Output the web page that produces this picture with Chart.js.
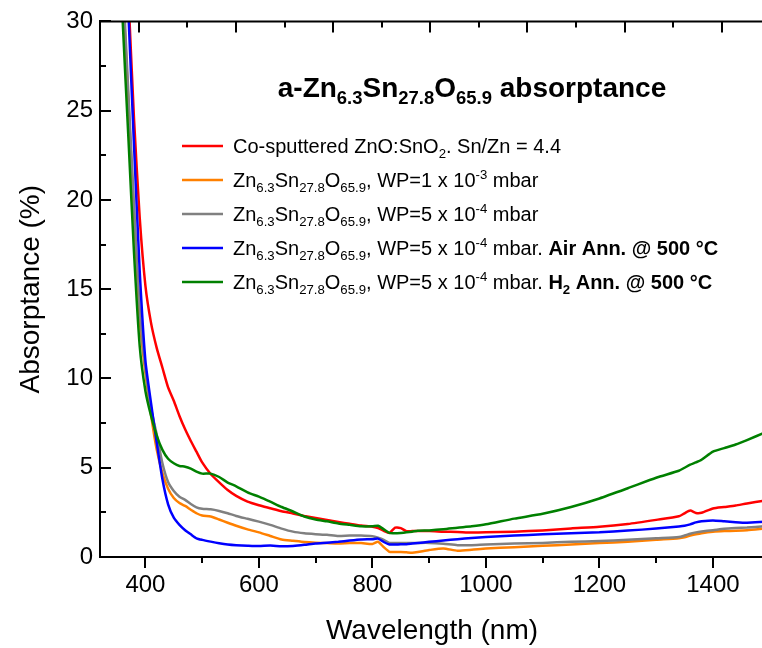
<!DOCTYPE html>
<html>
<head>
<meta charset="utf-8"/>
<title>a-ZTO absorptance</title>
<script src="https://cdn.jsdelivr.net/npm/chart.js@4.4.1/dist/chart.umd.min.js"></script>
<style>
  html, body { margin: 0; padding: 0; background: #fff; overflow: hidden; }
  #wrap { width: 762px; height: 648px; overflow: hidden; }
</style>
</head>
<body>
<div id="wrap"><canvas id="myChart" width="770" height="648"></canvas></div>
<script>
// wavelength grid (nm)
const wavelength = [350, 360, 370, 380, 390, 400, 410, 420, 430, 440, 450, 460, 470, 480, 490, 500,
  515, 530, 545, 560, 580, 600, 620, 640, 660, 680, 700, 720, 740, 760, 780, 800, 810, 820, 830,
  840, 850, 860, 870, 880, 900, 925, 950, 975, 1000, 1050, 1100, 1150, 1200, 1250, 1300, 1340,
  1350, 1360, 1370, 1380, 1400, 1420, 1440, 1460, 1490];

// absorptance (%) per sample
const coSputtered = [null, null, 31.5, 24.5, 19, 15.2, 13.1, 11.7, 10.6, 9.5, 8.75, 7.9, 7.15, 6.5, 5.9, 5.3,
  4.65, 4.18, 3.75, 3.42, 3.1, 2.9, 2.73, 2.56, 2.44, 2.3, 2.18, 2.07, 1.96, 1.86, 1.76, 1.7, 1.62, 1.47, 1.35,
  1.64, 1.62, 1.45, 1.45, 1.45, 1.45, 1.42, 1.4, 1.37, 1.38, 1.42, 1.49, 1.6, 1.69, 1.85, 2.08, 2.28,
  2.45, 2.6, 2.47, 2.48, 2.72, 2.8, 2.88, 3.0, 3.15];
const wp1e3 = [null, 32, 25.5, 19.2, 13.3, 10.3, 7.95, 6.0, 4.7, 3.82, 3.3, 3.02, 2.86, 2.65, 2.45, 2.32,
  2.27, 2.1, 1.92, 1.75, 1.55, 1.38, 1.18, 0.98, 0.91, 0.84, 0.8, 0.78, 0.76, 0.78, 0.78, 0.73, 0.85, 0.55, 0.29,
  0.28, 0.28, 0.26, 0.24, 0.28, 0.39, 0.48, 0.35, 0.4, 0.47, 0.55, 0.63, 0.7, 0.78, 0.86, 0.97, 1.05,
  1.1, 1.2, 1.27, 1.33, 1.41, 1.45, 1.47, 1.5, 1.59];
const wp5e4 = [null, 32.5, 26, 19.6, 13.8, 10.6, 8.3, 6.85, 5.25, 4.2, 3.7, 3.38, 3.2, 2.97, 2.78, 2.7,
  2.67, 2.58, 2.45, 2.3, 2.14, 1.98, 1.8, 1.59, 1.42, 1.33, 1.28, 1.24, 1.17, 1.2, 1.2, 1.16, 1.08, 0.96, 0.79,
  0.79, 0.79, 0.79, 0.79, 0.79, 0.79, 0.74, 0.66, 0.66, 0.7, 0.75, 0.79, 0.85, 0.9, 0.96, 1.05, 1.12,
  1.2, 1.3, 1.38, 1.43, 1.5, 1.58, 1.62, 1.65, 1.72];
const wp5e4Air = [null, null, 30.5, 23, 16, 11, 8.6, 6.4, 4.35, 2.95, 2.2, 1.8, 1.5, 1.27, 1.05, 0.96,
  0.86, 0.77, 0.7, 0.66, 0.63, 0.61, 0.64, 0.6, 0.62, 0.68, 0.76, 0.8, 0.85, 0.92, 0.98, 1.0, 1.03, 0.84, 0.7,
  0.7, 0.71, 0.72, 0.75, 0.78, 0.85, 0.92, 1.0, 1.07, 1.12, 1.2, 1.27, 1.33, 1.38, 1.48, 1.59, 1.71,
  1.75, 1.83, 1.94, 2.0, 2.05, 2.0, 1.95, 1.92, 1.97];
const wp5e4H2 = [38, 30, 23.5, 17, 11.8, 9.3, 7.9, 6.8, 6.0, 5.5, 5.25, 5.1, 5.06, 4.95, 4.78, 4.67,
  4.67, 4.48, 4.17, 3.96, 3.62, 3.38, 3.1, 2.8, 2.55, 2.27, 2.1, 2.0, 1.88, 1.8, 1.72, 1.72, 1.75, 1.55, 1.35,
  1.33, 1.35, 1.38, 1.42, 1.47, 1.49, 1.55, 1.64, 1.72, 1.83, 2.15, 2.42, 2.8, 3.28, 3.85, 4.44, 4.83,
  5.0, 5.17, 5.3, 5.45, 5.9, 6.1, 6.3, 6.55, 6.95];

// axis ticks
const xLabelTicks = [400, 600, 800, 1000, 1200, 1400];
const yLabelTicks = [0, 5, 10, 15, 20, 25, 30];

// legend / title texts (rich segments: sub, sup, b)
const ZTO = [{t: 'Zn'}, {t: '6.3', sub: true}, {t: 'Sn'}, {t: '27.8', sub: true}, {t: 'O'}, {t: '65.9', sub: true}];
const titleText = [{t: 'a-'}].concat(ZTO, [{t: ' absorptance'}]);
const legendTexts = [
  [{t: 'Co-sputtered ZnO:SnO'}, {t: '2', sub: true}, {t: '. Sn/Zn = 4.4'}],
  ZTO.concat([{t: ', WP=1 x 10'}, {t: '-3', sup: true}, {t: ' mbar'}]),
  ZTO.concat([{t: ', WP=5 x 10'}, {t: '-4', sup: true}, {t: ' mbar'}]),
  ZTO.concat([{t: ', WP=5 x 10'}, {t: '-4', sup: true}, {t: ' mbar. '}, {t: 'Air Ann. @ 500 °C', b: true}]),
  ZTO.concat([{t: ', WP=5 x 10'}, {t: '-4', sup: true}, {t: ' mbar. '}, {t: 'H', b: true}, {t: '2', sub: true, b: true}, {t: ' Ann. @ 500 °C', b: true}])
];
const seriesColors = ['#ff0000', '#ff8000', '#808080', '#0000ff', '#008000'];
const seriesValues = [coSputtered, wp1e3, wp5e4, wp5e4Air, wp5e4H2];

const FONT = '"Liberation Sans", Arial, sans-serif';

function drawRich(ctx, segs, x, y, size, measureOnly) {
  let cx = x;
  for (const s of segs) {
    const small = s.sub || s.sup;
    const fs = small ? size * 0.66 : size;
    ctx.font = (s.b || segs.bold ? 'bold ' : '') + fs + 'px ' + FONT;
    const dy = s.sub ? size * 0.26 : (s.sup ? -size * 0.4 : 0);
    if (!measureOnly) ctx.fillText(s.t, cx, y + dy);
    cx += ctx.measureText(s.t).width;
  }
  return cx - x;
}

const decorPlugin = {
  id: 'decor',
  afterDraw(chart) {
    const ctx = chart.ctx;
    const a = chart.chartArea;
    const xs = chart.scales.x, ys = chart.scales.y, xt = chart.scales.xTop;
    ctx.save();
    ctx.strokeStyle = '#000';
    ctx.lineWidth = 2;
    ctx.beginPath();
    // top frame line
    ctx.moveTo(a.left - 1, a.top);
    ctx.lineTo(a.right, a.top);
    // left ticks (inward)
    for (let v = 0; v <= 30; v += 2.5) {
      const py = Math.round(ys.getPixelForValue(v));
      const len = v % 5 === 0 ? 11 : 6;
      ctx.moveTo(a.left, py);
      ctx.lineTo(a.left + len, py);
    }
    // bottom ticks (outward)
    for (let v = 400; v <= xs.max; v += 100) {
      const px = Math.round(xs.getPixelForValue(v));
      const len = v % 200 === 0 ? 11 : 6;
      ctx.moveTo(px, a.bottom);
      ctx.lineTo(px, a.bottom + len);
    }
    // top ticks (inward)
    for (let k = 0; k <= 12; k++) {
      const px = Math.round(xt.getPixelForValue(k));
      const len = k % 2 === 0 ? 11 : 6;
      ctx.moveTo(px, a.top);
      ctx.lineTo(px, a.top + len);
    }
    ctx.stroke();

    // title
    ctx.fillStyle = '#000';
    ctx.textBaseline = 'alphabetic';
    ctx.textAlign = 'left';
    const t = titleText.slice(); t.bold = true;
    const w = drawRich(ctx, t, 0, 0, 28, true);
    drawRich(ctx, t, 472 - w / 2, 97, 28);

    // legend
    legendTexts.forEach((segs, i) => {
      const ly = 146 + i * 34;
      ctx.strokeStyle = seriesColors[i];
      ctx.lineWidth = 2.5;
      ctx.beginPath();
      ctx.moveTo(182, ly);
      ctx.lineTo(223, ly);
      ctx.stroke();
      ctx.fillStyle = '#000';
      drawRich(ctx, segs, 233, ly + 7, 20);
    });
    ctx.restore();
  }
};

const ctx = document.getElementById('myChart').getContext('2d');
const chart = new Chart(ctx, {
  type: 'line',
  data: {
    labels: wavelength,
    datasets: seriesValues.map((vals, i) => ({
      label: 'series' + i,
      data: wavelength.map((w, j) => ({x: w, y: vals[j]})),
      borderColor: seriesColors[i],
      borderWidth: 2.5,
      pointRadius: 0,
      tension: 0.2,
      fill: false,
      spanGaps: false,
      order: 5 - i
    }))
  },
  options: {
    responsive: false,
    animation: false,
    layout: { padding: { top: 16, right: 6, left: 0, bottom: 0 } },
    plugins: { legend: { display: false }, tooltip: { enabled: false }, title: { display: false } },
    scales: {
      x: {
        type: 'linear',
        min: 320, max: 1490,
        grid: { display: false, drawTicks: false },
        border: { display: true, color: '#000', width: 2 },
        ticks: {
          stepSize: 100, autoSkip: false, maxRotation: 0, padding: 14, includeBounds: false,
          color: '#000', font: { family: FONT, size: 24 },
          callback: v => xLabelTicks.includes(v) ? String(v) : ''
        },
        title: { display: true, text: 'Wavelength (nm)', color: '#000', font: { family: FONT, size: 28 }, padding: 0 },
        afterFit: s => { s.height = 91; }
      },
      xTop: {
        type: 'linear', position: 'top', display: false,
        min: -0.8, max: 12.87
      },
      y: {
        min: 0, max: 30,
        grid: { display: false, drawTicks: false },
        border: { display: true, color: '#000', width: 2 },
        ticks: {
          stepSize: 5, padding: 7, color: '#000', font: { family: FONT, size: 24 },
          callback: v => yLabelTicks.includes(v) ? String(v) : ''
        },
        title: { display: true, text: 'Absorptance (%)', color: '#000', font: { family: FONT, size: 28 }, padding: { top: 14, bottom: 0 } },
        afterFit: s => { s.width = 100; }
      }
    }
  },
  plugins: [decorPlugin]
});
</script>
</body>
</html>
